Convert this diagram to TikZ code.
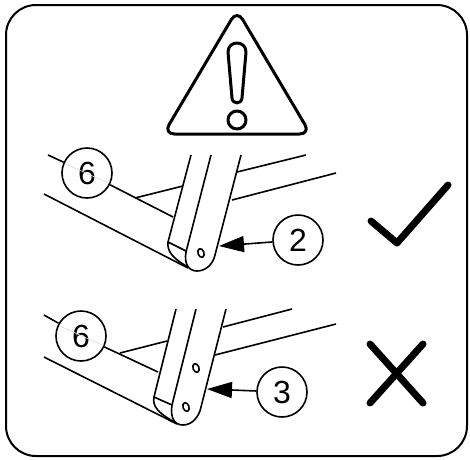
\documentclass[tikz,border=0pt]{standalone}
\usepackage{fontspec}
\setmainfont{Liberation Sans}
\usetikzlibrary{arrows.meta,shapes.geometric}

\begin{document}
\begin{tikzpicture}[x=1pt, y=-1pt, line width=1.6pt, line join=round,
    main/.style = {draw, circle, minimum size=50pt, inner sep=0pt, font=\fontsize{32}{32}\selectfont},
    hole/.style = {draw, ellipse, minimum width=6pt, minimum height=9pt, inner sep=0pt, rotate=20},
    pointer/.style = {-{Triangle[length=25pt,width=16pt]}},
    bold/.style = {line width=3pt, rounded corners=11pt},
    sign/.style = {line width=7pt, line cap=round, line join=round}]

    \useasboundingbox (0,0) rectangle (470,459);
    \draw[line width=2pt, rounded corners=30pt] (6,5) rectangle (467,456);

    % warning sign
    \draw[bold] (237,134) -- (310.5,134) -- (237,10) -- (163.5,134) -- cycle;
    \draw[line width=3pt] (228,52) .. controls (228,40) and (246,40) .. (246,52) -- (242,98)
        .. controls (241.5,104.5) and (232.5,104.5) .. (232,98) -- cycle;
    \node[draw, circle, line width=3pt, minimum size=18pt, inner sep=0pt] (dot) at (237,120) {};

    % good fitting
    \node[main] (6a) at (87,173) {6};
    \node[main] (2) at (298,240) {2};
    \coordinate (tipa) at (219,246);
    \coordinate (enda) at (48,155);
    \coordinate (barend) at (173,217);
    \draw[black!15, line width=0.6pt] (66,164) -- (108,183);
    \draw (6a) -- (enda);
    \draw (6a) -- (barend);
    \draw (44,194) -- (188,268);
    \draw (135,198) -- (183,186);
    \draw (237,172) -- (306,155);
    \draw (232,200) -- (336,173);
    \draw (191,155) -- (168,242) .. controls (167,251) and (172,258) .. (188,267);
    \draw (211,155) -- (186,252) .. controls (184,263) and (188,271) .. (197,271)
        .. controls (206,271) and (213,264) .. (215,255) -- (241,155);
    \draw (168,242) -- (186,251);
    \node[hole] (pina) at (201,253) {};
    \draw[pointer] (2) -- (tipa);

    % wrong fitting
    \node[main] (6b) at (81,336) {6};
    \node[main] (3) at (282,392) {3};
    \coordinate (tipb) at (207,389);
    \coordinate (endb) at (44,315);
    \coordinate (barendb) at (158,372);
    \draw[black!15, line width=0.6pt] (60,326) -- (102,345);
    \draw (6b) -- (endb);
    \draw (6b) -- (barendb);
    \draw (44,357) -- (177,424);
    \draw (120,353) -- (167,341);
    \draw (223,327) -- (292,309);
    \draw (215,355) -- (336,324);
    \draw (176,309) -- (154,397) .. controls (152,406) and (158,413) .. (176,423);
    \draw (196,309) -- (172,405) .. controls (170,417) and (174,425) .. (183,425)
        .. controls (192,425) and (199,417) .. (201,407) -- (226,309);
    \draw (154,397) -- (172,405);
    \node[hole] (pinb) at (196,368) {};
    \node[hole] (pinc) at (186,407) {};
    \draw[pointer] (3) -- (tipb);

    % tick and cross
    \draw[sign] (371,221) -- (397,243) -- (448,185);
    \draw[sign] (370,344) -- (423,403);
    \draw[sign] (423,344) -- (370,403);

\end{tikzpicture}
\end{document}
